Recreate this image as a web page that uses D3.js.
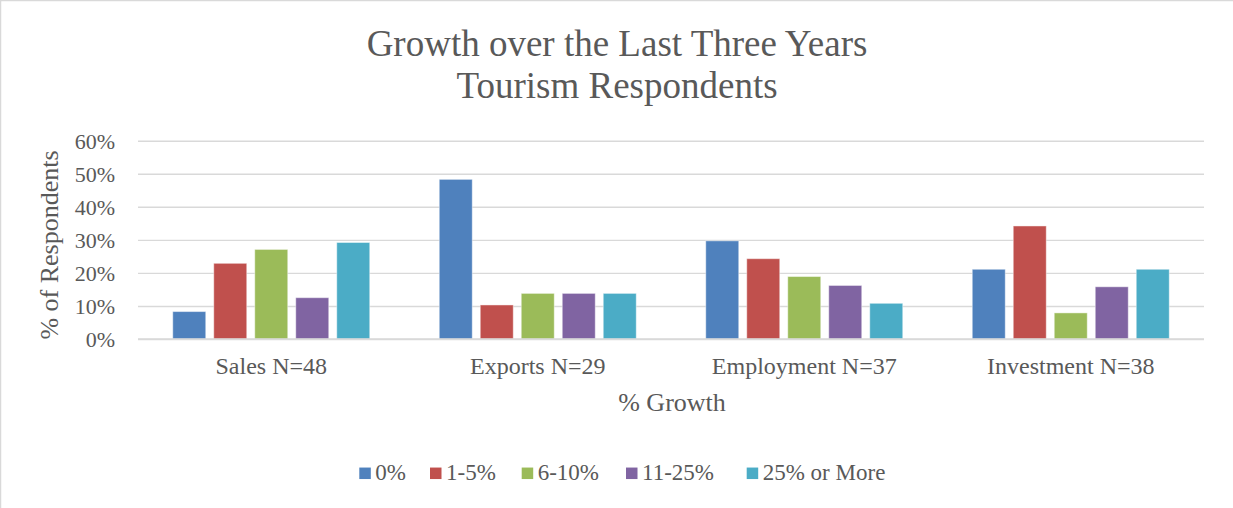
<!DOCTYPE html>
<html>
<head>
<meta charset="utf-8">
<script src="https://cdn.jsdelivr.net/npm/d3@7/dist/d3.min.js"></script>
<style>
  html, body { margin: 0; padding: 0; background: #fff; }
  svg { display: block; }
  text { font-family: "Liberation Serif", "Times New Roman", serif; fill: #595959; }
</style>
</head>
<body>
<svg id="chart" width="1233" height="508"></svg>
<script>
// Survey categories and response share (%) per growth band
const categories = ["Sales N=48", "Exports N=29", "Employment N=37", "Investment N=38"];
const seriesNames = ["0%", "1-5%", "6-10%", "11-25%", "25% or More"];
const growth0 = [8.3, 48.3, 29.7, 21.1];
const growth1to5 = [22.9, 10.3, 24.3, 34.2];
const growth6to10 = [27.1, 13.8, 18.9, 7.9];
const growth11to25 = [12.5, 13.8, 16.2, 15.8];
const growth25plus = [29.2, 13.8, 10.8, 21.1];
const yTicks = [0, 10, 20, 30, 40, 50, 60];
const colors = ["#4F81BD", "#C0504D", "#9BBB59", "#8064A2", "#4BACC6"];

const seriesValues = [growth0, growth1to5, growth6to10, growth11to25, growth25plus];

const svg = d3.select("#chart");
const W = 1233, H = 508;

// outer chart border
svg.append("rect")
  .attr("x", 0.5).attr("y", 0.5)
  .attr("width", W + 10).attr("height", H + 10)
  .attr("fill", "#fff").attr("stroke", "#D9D9D9").attr("stroke-width", 1.5);

const plot = { left: 138, right: 1204, top: 140.7, bottom: 339 };

const x0 = d3.scaleBand().domain(categories).range([plot.left, plot.right]).padding(0);
const groupInset = 34.75;
const x1 = d3.scaleBand().domain(seriesNames)
  .range([groupInset, x0.bandwidth() - groupInset])
  .paddingInner(8 / 41).paddingOuter(0);
const y = d3.scaleLinear().domain([0, 60]).range([plot.bottom, plot.top]);

// gridlines and value labels
const yAxis = d3.axisLeft(y).tickValues(yTicks).tickFormat(d => d + "%")
  .tickSize(-(plot.right - plot.left)).tickPadding(23);
const gy = svg.append("g").attr("transform", `translate(${plot.left},0)`).call(yAxis);
gy.select(".domain").remove();
gy.selectAll(".tick line").attr("stroke", "#D9D9D9").attr("stroke-width", 1.4);
gy.selectAll(".tick text")
  .style("font-size", "22px").style("fill", "#595959")
  .attr("dy", "0.36em");

// bars
const groups = svg.append("g").selectAll("g")
  .data(categories)
  .join("g")
  .attr("transform", d => `translate(${x0(d)},0)`);

groups.selectAll("rect")
  .data((c, ci) => seriesNames.map((s, si) => ({ s, si, v: seriesValues[si][ci] })))
  .join("rect")
  .attr("x", d => x1(d.s))
  .attr("width", x1.bandwidth())
  .attr("y", d => y(d.v))
  .attr("height", d => y(0) - y(d.v))
  .attr("fill", d => colors[d.si])
  .attr("stroke", "rgba(255,255,255,0.45)")
  .attr("stroke-width", 1);

// baseline
svg.append("line")
  .attr("x1", plot.left).attr("x2", plot.right)
  .attr("y1", y(0)).attr("y2", y(0))
  .attr("stroke", "#D9D9D9").attr("stroke-width", 1.4);

// category labels
const xAxis = d3.axisBottom(x0).tickSize(0).tickPadding(18);
const gx = svg.append("g").attr("transform", `translate(0,${plot.bottom})`).call(xAxis);
gx.select(".domain").remove();
gx.selectAll(".tick text").style("font-size", "24px").style("fill", "#595959");

// titles
svg.append("text").attr("x", 617).attr("y", 56)
  .attr("text-anchor", "middle").style("font-size", "37px")
  .text("Growth over the Last Three Years");
svg.append("text").attr("x", 617).attr("y", 98)
  .attr("text-anchor", "middle").style("font-size", "37px")
  .text("Tourism Respondents");

// axis titles
svg.append("text").attr("x", 672).attr("y", 411)
  .attr("text-anchor", "middle").style("font-size", "26px")
  .text("% Growth");
svg.append("text")
  .attr("transform", "translate(58.3,245) rotate(-90)")
  .attr("text-anchor", "middle").style("font-size", "26px")
  .text("% of Respondents");

// legend
const legendX = [359.3, 430, 521.7, 626, 746.7];
const legend = svg.append("g").selectAll("g")
  .data(seriesNames)
  .join("g")
  .attr("transform", (d, i) => `translate(${legendX[i]},473.3)`);
legend.append("rect")
  .attr("x", 0).attr("y", -5.75).attr("width", 11.5).attr("height", 11.5)
  .attr("fill", (d, i) => colors[i]);
legend.append("text")
  .attr("x", 16).attr("y", 6.7)
  .style("font-size", "23px")
  .text(d => d);
</script>
</body>
</html>
